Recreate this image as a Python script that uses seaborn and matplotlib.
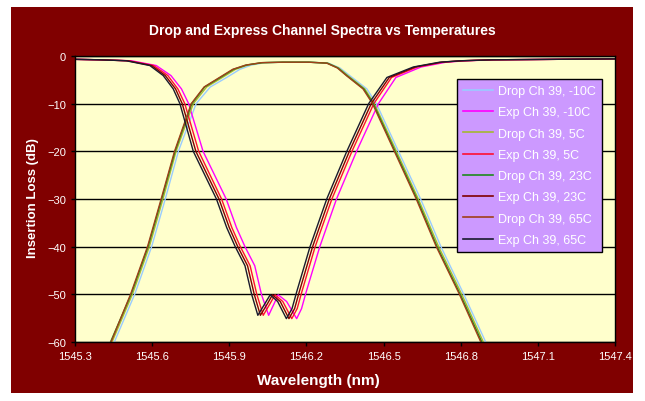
import numpy as np
import pandas as pd
import matplotlib
matplotlib.use("Agg")
import matplotlib.pyplot as plt
from matplotlib.patches import Rectangle
import seaborn as sns

# drop channel (band pass): insertion loss levels and wavelength at each level
drop_db = [-60, -50, -40, -30, -20, -10, -6.5, -4.5, -2.8, -1.9, -1.4, -1.3,
           -1.3, -1.5, -2.5, -4.1, -6.9, -10, -20, -30, -40, -50, -60]
drop_m10 = [1545.453, 1545.532, 1545.598, 1545.651, 1545.702, 1545.771, 1545.826,
            1545.890, 1545.941, 1545.986, 1546.037, 1546.114, 1546.215, 1546.286,
            1546.330, 1546.368, 1546.435, 1546.472, 1546.558, 1546.644, 1546.723,
            1546.812, 1546.897]
drop_5 = [1545.444, 1545.523, 1545.589, 1545.642, 1545.693, 1545.760, 1545.812,
          1545.873, 1545.924, 1545.972, 1546.031, 1546.111, 1546.212, 1546.283,
          1546.325, 1546.361, 1546.427, 1546.464, 1546.550, 1546.635, 1546.714,
          1546.804, 1546.888]
drop_23 = [1545.438, 1545.518, 1545.584, 1545.637, 1545.689, 1545.754, 1545.804,
           1545.865, 1545.916, 1545.966, 1546.027, 1546.109, 1546.210, 1546.281,
           1546.322, 1546.357, 1546.423, 1546.460, 1546.545, 1546.630, 1546.708,
           1546.798, 1546.882]
drop_65 = [1545.440, 1545.516, 1545.582, 1545.635, 1545.687, 1545.752, 1545.802,
           1545.862, 1545.913, 1545.964, 1546.025, 1546.107, 1546.208, 1546.279,
           1546.320, 1546.355, 1546.420, 1546.457, 1546.542, 1546.627, 1546.705,
           1546.795, 1546.878]

# express channel (notch)
exp_db = [-0.7, -0.8, -1.0, -2.0, -4.1, -6.9, -10, -20, -30, -36, -40, -44, -50,
          -54.4, -52, -50.1, -51.5, -55.1, -53, -49.5, -40, -30, -20, -10, -4.5,
          -2.3, -1.3, -1.0, -0.8, -0.6]
exp_m10 = [1545.30, 1545.398, 1545.519, 1545.616, 1545.673, 1545.714, 1545.742,
           1545.798, 1545.888, 1545.928, 1545.961, 1545.999, 1546.025, 1546.053,
           1546.074, 1546.090, 1546.123, 1546.162, 1546.181, 1546.199, 1546.252,
           1546.317, 1546.395, 1546.480, 1546.548, 1546.646, 1546.743, 1546.819,
           1546.931, 1547.400]
exp_5 = [1545.30, 1545.398, 1545.509, 1545.606, 1545.661, 1545.700, 1545.727,
         1545.781, 1545.870, 1545.910, 1545.943, 1545.981, 1546.007, 1546.032,
         1546.058, 1546.078, 1546.108, 1546.143, 1546.164, 1546.182, 1546.234,
         1546.299, 1546.377, 1546.462, 1546.531, 1546.631, 1546.730, 1546.809,
         1546.926, 1547.400]
exp_23 = [1545.30, 1545.398, 1545.504, 1545.598, 1545.651, 1545.691, 1545.717,
          1545.770, 1545.860, 1545.900, 1545.933, 1545.971, 1545.997, 1546.021,
          1546.048, 1546.068, 1546.098, 1546.132, 1546.154, 1546.172, 1546.224,
          1546.289, 1546.367, 1546.452, 1546.522, 1546.623, 1546.724, 1546.804,
          1546.923, 1547.400]
exp_65 = [1545.30, 1545.398, 1545.499, 1545.591, 1545.643, 1545.682, 1545.708,
          1545.760, 1545.850, 1545.890, 1545.923, 1545.961, 1545.987, 1546.011,
          1546.038, 1546.059, 1546.088, 1546.122, 1546.144, 1546.162, 1546.214,
          1546.279, 1546.357, 1546.442, 1546.513, 1546.616, 1546.718, 1546.799,
          1546.921, 1547.400]

series = [
    ("Drop Ch 39, -10C", drop_m10, drop_db, "#99CCFF"),
    ("Exp Ch 39, -10C", exp_m10, exp_db, "#FF00FF"),
    ("Drop Ch 39, 5C", drop_5, drop_db, "#A4B832"),
    ("Exp Ch 39, 5C", exp_5, exp_db, "#FF1030"),
    ("Drop Ch 39, 23C", drop_23, drop_db, "#1E8A1E"),
    ("Exp Ch 39, 23C", exp_23, exp_db, "#800000"),
    ("Drop Ch 39, 65C", drop_65, drop_db, "#A0401A"),
    ("Exp Ch 39, 65C", exp_65, exp_db, "#1A1A2E"),
]

frames = []
for name, wl, db, _ in series:
    frames.append(pd.DataFrame({"wl": wl, "db": db, "series": name}))
df = pd.concat(frames, ignore_index=True)
palette = {name: c for name, _, _, c in series}

plt.rcParams["font.family"] = ["Liberation Sans", "DejaVu Sans"]

fig = plt.figure(figsize=(6.45, 4.02), dpi=100)
fig.patch.set_facecolor("white")
fig.add_artist(Rectangle((11 / 645, 1 - 394 / 402), 622 / 645, 386 / 402,
                         transform=fig.transFigure, facecolor="#800000",
                         edgecolor="none", zorder=-10))
ax = fig.add_axes([75 / 645, 1 - 343 / 402, 540 / 645, 286 / 402])
ax.set_facecolor("#FFFFCC")

sns.lineplot(data=df, x="wl", y="db", hue="series", palette=palette,
             hue_order=[s[0] for s in series], estimator=None, sort=False,
             units="series", linewidth=1.0, ax=ax, legend=False)

ax.set_xlim(1545.3, 1547.4)
ax.set_ylim(-60, 0)
ax.set_xticks(np.round(np.arange(1545.3, 1547.41, 0.3), 1))
ax.set_xticklabels(["1545.3", "1545.6", "1545.9", "1546.2", "1546.5",
                    "1546.8", "1547.1", "1547.4"])
ax.set_yticks(range(-60, 1, 10))
ax.grid(axis="y", color="black", linewidth=1.0)
ax.set_axisbelow(True)
for s in ax.spines.values():
    s.set_color("black")
    s.set_linewidth(1.0)
ax.tick_params(colors="white", labelsize=8, length=3, width=1, direction="out")
ax.tick_params(axis="both", color="black")
ax.set_xlabel("")
ax.set_ylabel("")

fig.text(318 / 645, 1 - 381 / 402, "Wavelength (nm)", color="white",
         fontsize=11, fontweight="bold", ha="center", va="center")
fig.text(33 / 645, 1 - 198 / 402, "Insertion Loss (dB)", color="white",
         fontsize=9.5, fontweight="bold", ha="center", va="center",
         rotation=90)
fig.text(322 / 645, 1 - 31 / 402, "Drop and Express Channel Spectra vs Temperatures",
         color="white", fontsize=10, fontweight="bold", ha="center", va="center")

handles = [plt.Line2D([], [], color=c, lw=1.2) for _, _, _, c in series]
leg = ax.legend(handles, [s[0] for s in series], loc="upper left",
                bbox_to_anchor=(0.707, 0.92), fontsize=9, frameon=True,
                fancybox=False, facecolor="#CC99FF", edgecolor="black",
                framealpha=1, labelspacing=0.74, handlelength=2.4,
                borderpad=0.5, handletextpad=0.4, borderaxespad=0)
leg.get_frame().set_linewidth(1.0)
for t in leg.get_texts():
    t.set_color("white")

fig.savefig("out.png", dpi=100, facecolor=fig.get_facecolor())
